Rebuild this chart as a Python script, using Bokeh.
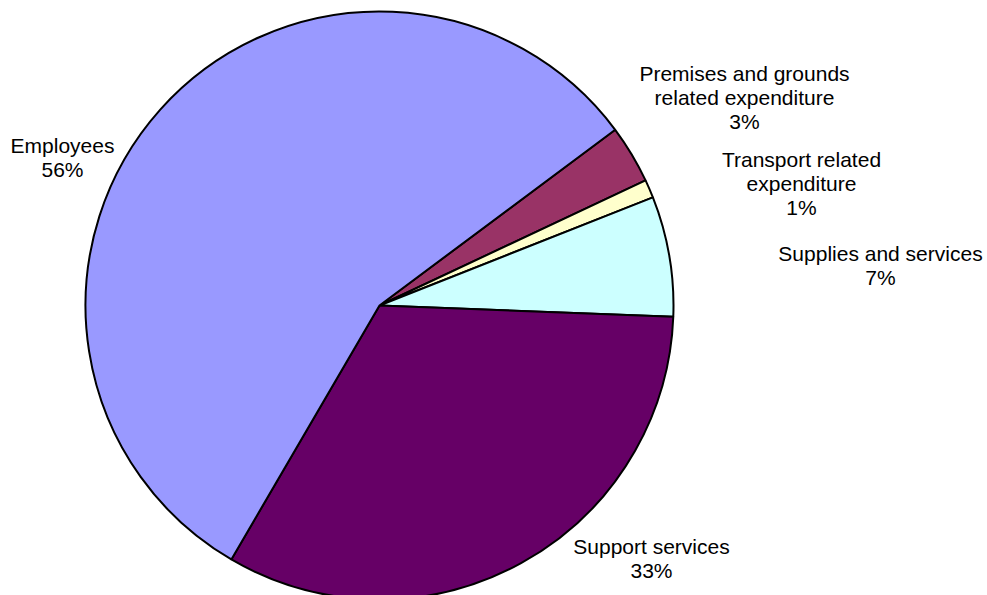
import math
from bokeh.plotting import figure
from bokeh.models import Range1d, ColumnDataSource
from bokeh.core.properties import value
from bokeh.embed import file_html
from bokeh.resources import INLINE

# Data (clockwise order, starting at the Premises slice)
categories = ["Premises and grounds\nrelated expenditure", "Transport related\nexpenditure",
              "Supplies and services", "Support services", "Employees"]
shares = [3.2, 1.0, 6.6, 32.8, 56.4]
colors = ["#993366", "#FFFFCC", "#CCFFFF", "#660066", "#9999FF"]

# Layout (pixel coordinates, top-left origin)
W, H = 987, 595
cx, cy, R = 379, 305, 294
start_deg = 36.7
label_pos = [(744, 97), (801, 183), (880, 265), (651, 558), (62, 157)]

total = sum(shares)
starts, ends = [], []
cum = 0.0
for s in shares:
    starts.append(math.radians(start_deg - cum / total * 360))
    cum += s
    ends.append(math.radians(start_deg - cum / total * 360))

src = ColumnDataSource(dict(x=[cx] * len(shares), y=[H - cy] * len(shares),
                            start=starts, end=ends, color=colors))

p = figure(width=W, height=H, x_range=Range1d(0, W), y_range=Range1d(0, H),
           output_backend="svg", toolbar_location=None, min_border=0)
p.axis.visible = False
p.grid.visible = False
p.outline_line_color = None
p.background_fill_color = "white"

p.wedge(x="x", y="y", radius=R, start_angle="start", end_angle="end", direction="clock",
        fill_color="color", line_color="black", line_width=2, source=src)

texts = [f"{c}\n{round(s / total * 100):.0f}%" for c, s in zip(categories, shares)]
lsrc = ColumnDataSource(dict(x=[lp[0] for lp in label_pos], y=[H - lp[1] for lp in label_pos], text=texts))
p.text(x="x", y="y", text="text", source=lsrc, text_align="center", text_baseline="middle",
       text_font=value("Liberation Sans"), text_font_size="21px", text_line_height=1.05,
       text_color="black")

open("out.html", "w").write(file_html(p, INLINE))
